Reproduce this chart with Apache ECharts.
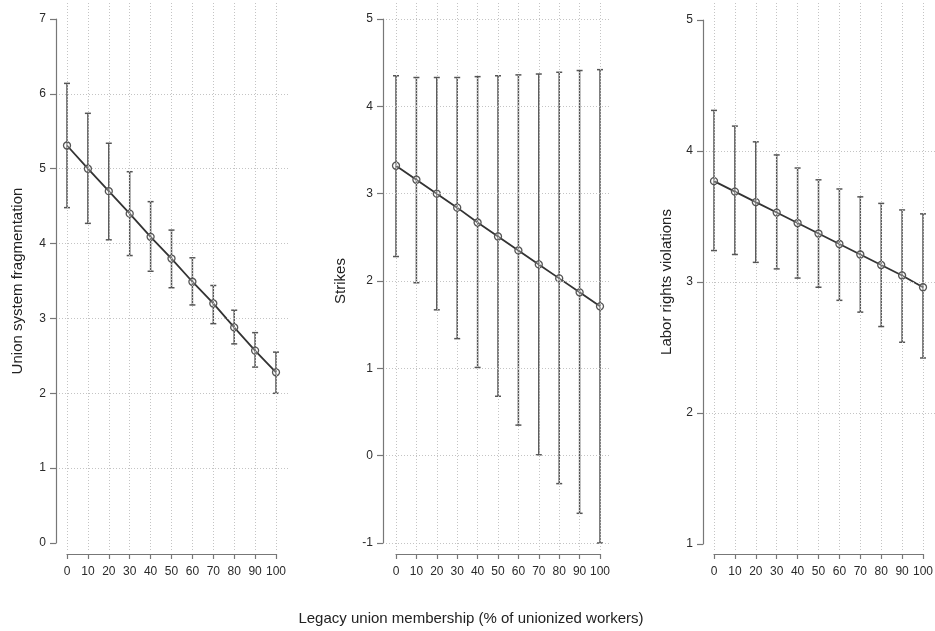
<!DOCTYPE html>
<html>
<head>
<meta charset="utf-8">
<script src="https://cdn.jsdelivr.net/npm/echarts@6/dist/echarts.min.js"></script>
<style>html,body{margin:0;padding:0;background:#fff}#c{width:935px;height:631px}</style>
</head>
<body>
<div id="c"></div>
<script>
// ---- data ----
const xValues = [0, 10, 20, 30, 40, 50, 60, 70, 80, 90, 100];
const fragMean = [5.31, 5.00, 4.70, 4.40, 4.09, 3.80, 3.49, 3.20, 2.88, 2.57, 2.28];
const fragLow  = [4.48, 4.27, 4.05, 3.84, 3.63, 3.41, 3.18, 2.93, 2.66, 2.35, 2.00];
const fragHigh = [6.14, 5.74, 5.34, 4.96, 4.56, 4.18, 3.81, 3.44, 3.11, 2.81, 2.55];
const strikeMean = [3.32, 3.16, 3.00, 2.84, 2.67, 2.51, 2.35, 2.19, 2.03, 1.87, 1.71];
const strikeLow  = [2.28, 1.98, 1.67, 1.34, 1.01, 0.68, 0.35, 0.01, -0.32, -0.66, -1.00];
const strikeHigh = [4.35, 4.33, 4.33, 4.33, 4.34, 4.35, 4.36, 4.37, 4.39, 4.41, 4.42];
const laborMean = [3.77, 3.69, 3.61, 3.53, 3.45, 3.37, 3.29, 3.21, 3.13, 3.05, 2.96];
const laborLow  = [3.24, 3.21, 3.15, 3.10, 3.03, 2.96, 2.86, 2.77, 2.66, 2.54, 2.42];
const laborHigh = [4.31, 4.19, 4.07, 3.97, 3.87, 3.78, 3.71, 3.65, 3.60, 3.55, 3.52];
const yTitles = ['Union system fragmentation', 'Strikes', 'Labor rights violations'];
const xTitle = 'Legacy union membership (% of unionized workers)';
const yRanges = [[0, 7], [-1, 5], [1, 5]];
const yGridValues = [[1, 2, 3, 4, 5, 6], [-1, 0, 1, 2, 3, 4, 5], [2, 3, 4]];

const panelData = [
  {mean: fragMean, low: fragLow, high: fragHigh},
  {mean: strikeMean, low: strikeLow, high: strikeHigh},
  {mean: laborMean, low: laborLow, high: laborHigh}
];

// ---- layout (pixels) ----
const layout = [
  {axisX: 56,  x0: 67,  x100: 276, yTop: 19, yBot: 543, plotL: 59,  plotR: 288, nameGap: 31},
  {axisX: 383, x0: 396, x100: 600, yTop: 19, yBot: 543, plotL: 386, plotR: 610, nameGap: 35},
  {axisX: 703, x0: 714, x100: 923, yTop: 20, yBot: 544, plotL: 706, plotR: 935, nameGap: 29}
];
const plotTop = 3, plotBottom = 550, xAxisLineY = 554;
const FONT = 'Liberation Sans, Arial, Helvetica, sans-serif';
const axisColor = '#777';
const gridColor = '#c4c4c4';

const grids = [], xAxes = [], yAxes = [], series = [];

layout.forEach((L, p) => {
  const [yMin, yMax] = yRanges[p];
  const pxX = (L.x100 - L.x0) / 100;
  const pxY = (L.yBot - L.yTop) / (yMax - yMin);
  const gA = grids.length;
  grids.push({left: L.plotL, top: plotTop, width: L.plotR - L.plotL, height: plotBottom - plotTop, outerBoundsMode: 'none'});
  const gB = grids.length;
  grids.push({left: L.x0, top: L.yTop, width: L.x100 - L.x0, height: L.yBot - L.yTop, outerBoundsMode: 'none'});

  const xa = xAxes.length;
  xAxes.push({
    gridIndex: gA, type: 'value', show: false,
    min: 0 - (L.x0 - L.plotL) / pxX, max: 100 + (L.plotR - L.x100) / pxX,
    splitLine: {show: false}
  });
  xAxes.push({
    gridIndex: gB, type: 'value', min: 0, max: 100, interval: 10,
    position: 'bottom', offset: xAxisLineY - L.yBot,
    axisLine: {show: true, onZero: false, lineStyle: {color: axisColor, width: 1.2}},
    axisTick: {show: true, length: 5, lineStyle: {color: axisColor, width: 1.2}},
    axisLabel: {show: true, fontSize: 12, color: '#2a2a2a', margin: 12, fontFamily: FONT, showMinLabel: true, showMaxLabel: true},
    splitLine: {show: false}
  });
  const ya = yAxes.length;
  yAxes.push({
    gridIndex: gA, type: 'value', show: false,
    min: yMin - (plotBottom - L.yBot) / pxY, max: yMax + (L.yTop - plotTop) / pxY,
    splitLine: {show: false}
  });
  yAxes.push({
    gridIndex: gB, type: 'value', min: yMin, max: yMax, interval: 1,
    position: 'left', offset: L.x0 - L.axisX,
    name: yTitles[p], nameLocation: 'middle', nameRotate: 90, nameGap: L.nameGap,
    nameTextStyle: {fontSize: 15, color: '#222', fontFamily: FONT},
    axisLine: {show: true, onZero: false, lineStyle: {color: axisColor, width: 1.2}},
    axisTick: {show: true, length: 6, lineStyle: {color: axisColor, width: 1.2}},
    axisLabel: {show: true, fontSize: 12, color: '#2a2a2a', margin: 10, fontFamily: FONT, showMinLabel: true, showMaxLabel: true},
    splitLine: {show: false}
  });

  const D = panelData[p];
  // gridlines
  series.push({
    type: 'line', xAxisIndex: xa, yAxisIndex: ya, z: 1, silent: true,
    data: xValues.map((x, i) => [x, D.mean[i]]),
    showSymbol: false, symbol: 'none', lineStyle: {opacity: 0},
    markLine: {
      silent: true, symbol: 'none', label: {show: false},
      lineStyle: {type: [1, 2], color: gridColor, width: 1},
      animation: false,
      data: yGridValues[p].map(v => ({yAxis: v})).concat(xValues.map(v => ({xAxis: v})))
    }
  });
  // error bars
  series.push({
    type: 'custom', xAxisIndex: xa, yAxisIndex: ya, z: 3, silent: true,
    data: xValues.map((x, i) => [x, D.low[i], D.high[i]]),
    encode: {x: 0, y: [1, 2]},
    renderItem: function (params, api) {
      const x = api.value(0);
      const pLo = api.coord([x, api.value(1)]);
      const pHi = api.coord([x, api.value(2)]);
      const w = 3;
      const st = {stroke: '#555', lineWidth: 1.5};
      return {
        type: 'group',
        children: [
          {type: 'line', shape: {x1: pLo[0], y1: pLo[1], x2: pHi[0], y2: pHi[1]}, style: st},
          {type: 'line', shape: {x1: pLo[0] - w, y1: pLo[1], x2: pLo[0] + w, y2: pLo[1]}, style: st},
          {type: 'line', shape: {x1: pHi[0] - w, y1: pHi[1], x2: pHi[0] + w, y2: pHi[1]}, style: st}
        ]
      };
    }
  });
  // mean line
  series.push({
    type: 'line', xAxisIndex: xa, yAxisIndex: ya, z: 4, silent: true,
    data: xValues.map((x, i) => [x, D.mean[i]]),
    symbol: 'circle', symbolSize: 7, showSymbol: true,
    itemStyle: {color: 'rgba(255,255,255,0.3)', borderColor: '#555', borderWidth: 1.3},
    lineStyle: {color: '#333', width: 1.8}
  });
});

const chart = echarts.init(document.getElementById('c'), null, {renderer: 'canvas'});
chart.setOption({
  animation: false,
  backgroundColor: '#fff',
  title: {
    text: xTitle, left: 466, top: 606, textAlign: 'center',
    textStyle: {fontSize: 15, fontWeight: 'normal', color: '#222', fontFamily: FONT}
  },
  grid: grids, xAxis: xAxes, yAxis: yAxes, series: series
});
</script>
</body>
</html>
